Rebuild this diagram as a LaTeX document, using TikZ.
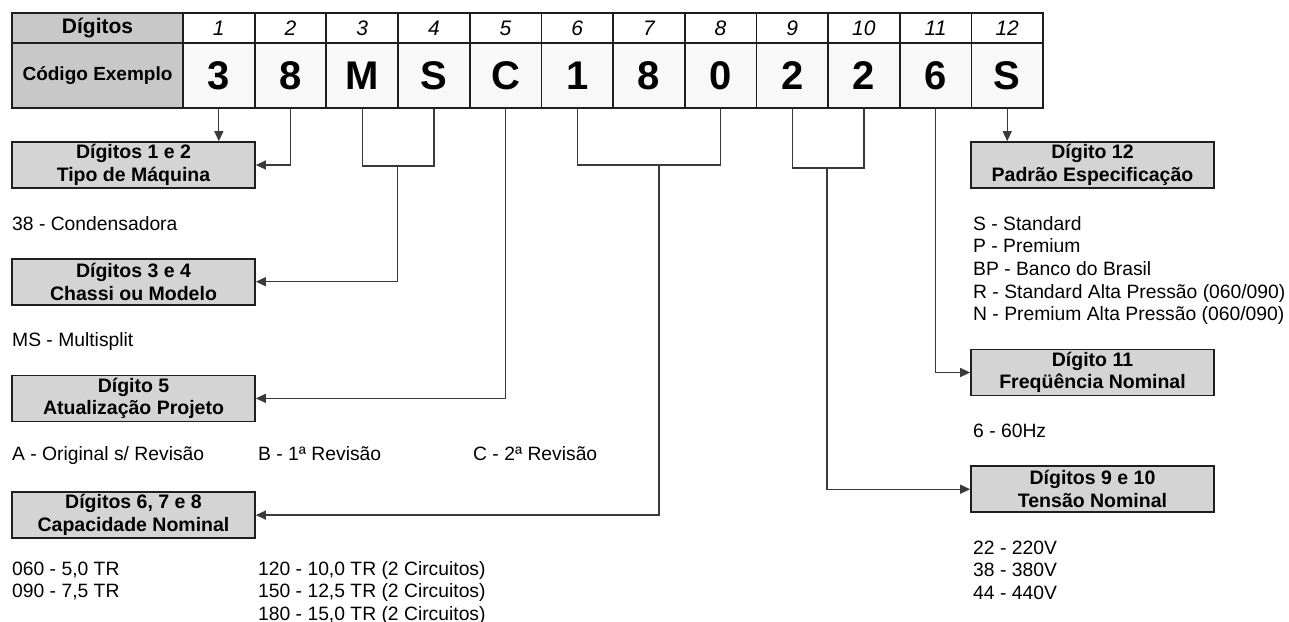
\documentclass[tikz,border=0pt]{standalone}
\usepackage{fontspec}
\setmainfont{Liberation Sans}
\usepackage{tikz}
\usetikzlibrary{positioning,arrows.meta}
\definecolor{tablegray}{HTML}{1E1E1E}
\definecolor{linegray}{HTML}{3A3A3A}
\definecolor{headgray}{HTML}{C8C8C8}
\definecolor{codegray}{HTML}{F8F8F8}
\definecolor{boxgray}{HTML}{D4D4D4}

\begin{document}
\begin{tikzpicture}[x=1pt, y=-1pt, >={Triangle[length=10pt,width=9pt]},
    headcell/.style={draw=tablegray, line width=1.7pt, fill=headgray, inner sep=0pt, minimum width=171pt, font=\bfseries},
    numcell/.style={draw=tablegray, line width=1.7pt, fill=white, inner sep=0pt, minimum width=71.67pt, minimum height=30pt, font=\fontsize{21}{21}\selectfont\itshape},
    codecell/.style={draw=tablegray, line width=1.7pt, fill=codegray, inner sep=0pt, minimum width=71.67pt, minimum height=65pt, font=\fontsize{40}{40}\selectfont\bfseries},
    infobox/.style={draw=tablegray, line width=1.7pt, fill=boxgray, inner sep=0pt, minimum width=243pt, minimum height=46pt, align=center, font=\fontsize{19.5}{22.7}\selectfont\bfseries},
    infotext/.style={anchor=base west, inner sep=0pt, align=left, font=\fontsize{19.3}{22.7}\selectfont},
    link/.style={draw=linegray, line width=1.3pt}
]
\useasboundingbox (0,0) rectangle (1289,621);

% table
\node[headcell, minimum height=30pt, font=\fontsize{21}{21}\selectfont\bfseries](hdig) at (97.5,28){Dígitos};
\node[headcell, minimum height=65pt, font=\fontsize{19}{19}\selectfont\bfseries](hcod) at (97.5,75.5){Código Exemplo};
\foreach \i/\ch in {1/3,2/8,3/M,4/S,5/C,6/1,7/8,8/0,9/2,10/2,11/6,12/S}{
    \node[numcell](d\i) at ({183+71.67*(\i-0.5)},28){\i};
    \node[codecell](c\i) at ({183+71.67*(\i-0.5)},75.5){\ch};
}

% boxes
\node[infobox](tipo) at (133.5,165){Dígitos 1 e 2\\Tipo de Máquina};
\node[infobox](chassi)[below=69pt of tipo]{Dígitos 3 e 4\\Chassi ou Modelo};
\node[infobox](atual)[below=69pt of chassi]{Dígito 5\\Atualização Projeto};
\node[infobox](capac)[below=69pt of atual]{Dígitos 6, 7 e 8\\Capacidade Nominal};
\node[infobox](padrao) at (1092.5,165){Dígito 12\\Padrão Especificação};
\node[infobox](freq) at (1092.5,372.5){Dígito 11\\Freqüência Nominal};
\node[infobox](tensao)[below=69pt of freq]{Dígitos 9 e 10\\Tensão Nominal};

% values (base = last line)
\node[infotext](tipotxt) at (12,230){38 - Condensadora};
\node[infotext](chassitxt) at (12,346.5){MS - Multisplit};
\node[infotext](atualA) at (12,460.5){A - Original s/ Revisão};
\node[infotext](atualB) at (258,460.5){B - 1ª Revisão};
\node[infotext](atualC) at (473,460.5){C - 2ª Revisão};
\node[infotext](capacA) at (12,597.7){060 - 5,0 TR\\090 - 7,5 TR};
\node[infotext](capacB) at (258,620.4){120 - 10,0 TR (2 Circuitos)\\150 - 12,5 TR (2 Circuitos)\\180 - 15,0 TR (2 Circuitos)};
\node[infotext](padraotxt) at (973,320.8){S - Standard\\P - Premium\\BP - Banco do Brasil\\R - Standard Alta Pressão (060/090)\\N - Premium Alta Pressão (060/090)};
\node[infotext](freqtxt) at (973,437){6 - 60Hz};
\node[infotext](tensaotxt) at (973,599.4){22 - 220V\\38 - 380V\\44 - 440V};

% connectors
\coordinate (j34) at (397.75,166);
\coordinate (j68) at (659,165);
\coordinate (j910) at (827,168);
\draw[link, ->] (c1.south) -- (c1.south |- tipo.north);
\draw[link, ->] (c2.south) |- (tipo.east);
\draw[link] (c3.south) |- (j34) -| (c4.south);
\draw[link, ->] (j34) |- (chassi.east);
\draw[link, ->] (c5.south) |- (atual.east);
\draw[link] (c6.south) |- (j68) -| (c8.south);
\draw[link, ->] (j68) |- (capac.east);
\draw[link] (c9.south) |- (j910) -| (c10.south);
\draw[link, ->] (j910) |- (tensao.west);
\draw[link, ->] (c11.south) |- (freq.west);
\draw[link, ->] (c12.south) -- (c12.south |- padrao.north);
\end{tikzpicture}
\end{document}
